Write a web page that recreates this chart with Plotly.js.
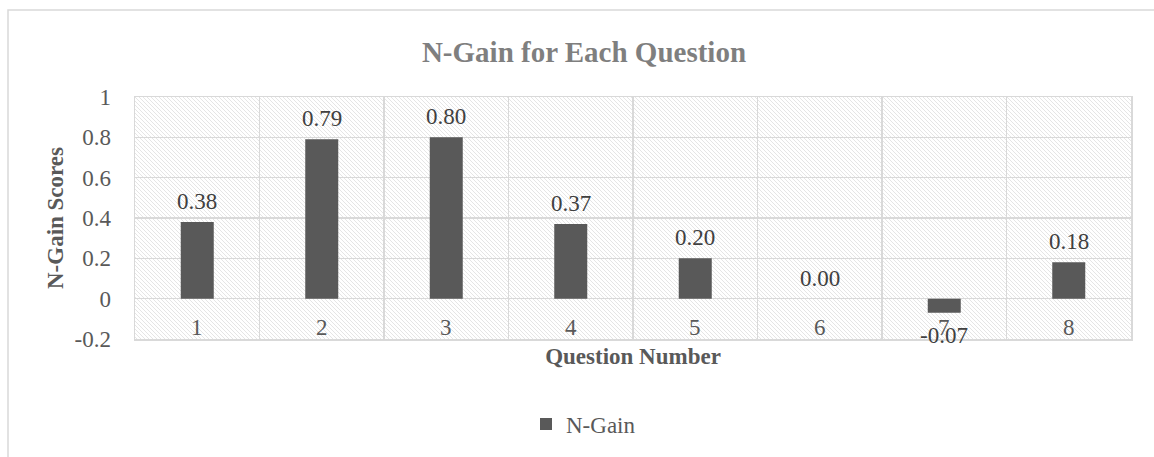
<!DOCTYPE html>
<html>
<head>
<meta charset="utf-8">
<script src="https://cdn.plot.ly/plotly-3.0.1.min.js"></script>
<style>html,body{margin:0;padding:0;background:#fff;}#chart{width:1154px;height:457px;}</style>
</head>
<body>
<div id="chart"></div>
<script>
const questions = [1, 2, 3, 4, 5, 6, 7, 8];
const nGain = [0.38, 0.79, 0.80, 0.37, 0.20, 0.00, -0.07, 0.18];
const yTickVals = [-0.2, 0, 0.2, 0.4, 0.6, 0.8, 1];
const yTickText = ['-0.2', '0', '0.2', '0.4', '0.6', '0.8', '1'];
const seriesName = 'N-Gain';
const chartTitle = 'N-Gain for Each Question';
const xTitle = 'Question Number';
const yTitle = 'N-Gain Scores';

const FONT = 'Liberation Serif, Times New Roman, serif';
const W = 1154, H = 457;
const M = {l: 135, r: 23, t: 97, b: 118};
const pw = W - M.l - M.r, ph = H - M.t - M.b;

// hatch background pattern
const svg = `<svg xmlns="http://www.w3.org/2000/svg" width="${pw}" height="${ph}"><defs><pattern id="p" width="4" height="4" patternUnits="userSpaceOnUse"><path d="M-1,-1 L5,5 M3,-1 L5,1 M-1,3 L1,5" stroke="#e2e2e2" stroke-width="0.9"/></pattern></defs><rect width="100%" height="100%" fill="url(#p)"/></svg>`;
const hatch = 'data:image/svg+xml;charset=utf-8,' + encodeURIComponent(svg);

const annotations = [];
questions.forEach((q, i) => {
  const v = nGain[i];
  annotations.push({
    x: q, y: v, xref: 'x', yref: 'y', text: (v < 0 ? '-' : '') + Math.abs(v).toFixed(2), showarrow: false,
    yanchor: v < 0 ? 'top' : 'bottom', yshift: v < 0 ? -8 : 6,
    font: {family: FONT, size: 23, color: '#404040'}
  });
  annotations.push({
    x: q, y: 0, xref: 'x', yref: 'y', text: String(q), showarrow: false,
    yanchor: 'middle', yshift: -29,
    font: {family: FONT, size: 23, color: '#595959'}
  });
});

const px2paperX = p => (p - M.l) / pw;
const px2paperY = p => (H - M.b - p) / ph;

const data = [{
  type: 'bar', x: questions, y: nGain, name: seriesName,
  width: 0.265, marker: {color: '#595959'}, showlegend: true, hoverinfo: 'x+y'
}];

const layout = {
  width: W, height: H, margin: M,
  paper_bgcolor: '#ffffff', plot_bgcolor: 'rgba(0,0,0,0)',
  font: {family: FONT, size: 23, color: '#595959'},
  title: {text: '<b>' + chartTitle + '</b>', x: 584 / W, xref: 'container', xanchor: 'center', y: 1 - 52 / H, yanchor: 'middle',
          font: {family: FONT, size: 29, color: '#7f7f7f'}},
  xaxis: {range: [0.5, 8.5], tick0: 0.5, dtick: 1, showticklabels: false, ticks: '',
          showgrid: true, gridcolor: '#d9d9d9', gridwidth: 1.5, zeroline: false,
          showline: true, linecolor: '#d9d9d9', linewidth: 1.5, mirror: true,
          title: {text: '<b>' + xTitle + '</b>', standoff: 8, font: {family: FONT, size: 23, color: '#595959'}}},
  yaxis: {range: [-0.2, 1], tickmode: 'array', tickvals: yTickVals, ticktext: yTickText, showgrid: true,
          gridcolor: '#d9d9d9', gridwidth: 1.5, zeroline: true, zerolinecolor: '#d9d9d9', zerolinewidth: 1.5,
          showline: true, linecolor: '#d9d9d9', linewidth: 1.5, mirror: true,
          ticks: 'outside', ticklen: 18, tickcolor: 'rgba(0,0,0,0)',
          tickfont: {family: FONT, size: 23, color: '#595959'},
          title: {text: '<b>' + yTitle + '</b>', standoff: 4, font: {family: FONT, size: 23, color: '#595959'}}},
  showlegend: true,
  legend: {orientation: 'h', x: px2paperX(526), xanchor: 'left', y: px2paperY(424), yanchor: 'middle',
           font: {family: FONT, size: 23, color: '#595959'}, bgcolor: 'rgba(0,0,0,0)'},
  annotations: annotations,
  images: [{source: hatch, xref: 'paper', yref: 'paper', x: 0, y: 1, sizex: 1, sizey: 1,
            xanchor: 'left', yanchor: 'top', sizing: 'stretch', layer: 'below'}],
  shapes: [{type: 'rect', xref: 'paper', yref: 'paper',
            x0: px2paperX(8), x1: px2paperX(1170), y0: px2paperY(470), y1: px2paperY(10),
            line: {color: '#d9d9d9', width: 1.5}, fillcolor: 'rgba(0,0,0,0)', layer: 'below'}]
};

Plotly.newPlot('chart', data, layout, {displayModeBar: false, staticPlot: true});
</script>
</body>
</html>
